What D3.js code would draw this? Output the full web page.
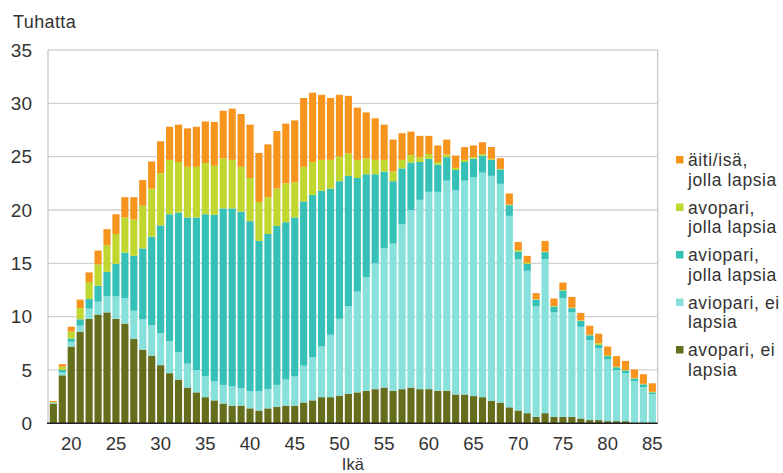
<!DOCTYPE html>
<html><head><meta charset="utf-8">
<script src="https://cdn.jsdelivr.net/npm/d3@7"></script>
<style>body{margin:0;background:#fff}svg{display:block;font-family:"Liberation Sans",Arial,sans-serif}</style>
</head><body><svg id="c" width="783" height="473"></svg>
<script>
const ages = d3.range(18, 86);
const xTickLabels = [20,25,30,35,40,45,50,55,60,65,70,75,80,85];
const yTickLabels = [0,5,10,15,20,25,30,35];
const seriesNames = ["avopari, ei lapsia","aviopari, ei lapsia","aviopari, jolla lapsia","avopari, jolla lapsia","äiti/isä, jolla lapsia"];
const avopariEiLapsia = [1.85,4.5,7.2,8.6,9.8,10.2,10.4,9.8,9.35,7.9,6.9,6.35,5.45,4.7,4.1,3.35,2.9,2.45,2.15,1.85,1.65,1.65,1.4,1.2,1.4,1.55,1.65,1.65,1.95,2.15,2.45,2.45,2.6,2.75,2.9,3.05,3.2,3.35,3.05,3.2,3.35,3.2,3.2,3.05,3.05,2.7,2.7,2.55,2.45,2.1,1.95,1.5,1.2,0.95,0.6,0.95,0.6,0.6,0.6,0.45,0.3,0.3,0.2,0.2,0.2,0.05,0.05,0.05];
const aviopariEiLapsia = [0.05,0.25,0.45,0.55,0.95,1.2,1.5,2.1,2.4,2.65,2.85,2.85,3.0,3.0,2.55,2.25,2.1,1.95,1.8,1.75,1.8,1.65,1.6,1.8,1.8,2.05,2.45,2.75,3.45,4.05,4.75,5.85,7.2,8.25,9.45,10.65,11.8,13.05,13.8,15.45,16.65,17.75,18.5,18.65,19.7,19.15,20.05,20.5,21.05,21.1,20.5,17.95,14.2,13.35,10.4,14.45,9.8,11.15,9.8,8.6,7.5,6.75,5.8,4.8,4.5,3.9,3.35,2.7];
const aviopariJollaLapsia = [0.05,0.25,0.3,0.6,0.9,1.5,2.3,3.05,4.25,5.15,6.65,8.3,10.1,11.9,13.1,13.7,14.3,15.2,15.6,16.55,16.7,16.55,15.95,14.1,14.55,14.9,14.75,14.9,15.4,15.2,14.6,13.7,12.9,12.2,10.65,9.65,8.35,7.2,5.85,5.25,4.45,3.55,3.1,2.55,2.2,1.9,1.75,1.75,1.6,1.5,1.35,1.0,0.7,0.65,0.6,0.65,0.55,0.7,0.4,0.55,0.45,0.3,0.3,0.25,0.25,0.25,0.25,0.15];
const avopariJollaLapsia = [0.05,0.3,0.65,1.05,1.6,2.0,2.5,2.8,3.3,3.4,4.0,4.5,4.9,5.1,4.75,4.75,4.75,4.8,4.6,4.7,4.55,4.2,4.05,3.65,3.45,3.5,3.65,3.3,3.25,3.1,2.9,2.7,2.3,2.1,1.7,1.5,1.35,1.1,0.9,0.8,0.7,0.45,0.45,0.25,0.25,0.2,0.2,0.15,0.15,0.1,0.05,0.05,0.15,0.1,0.05,0.05,0.05,0.05,0.05,0.05,0.05,0.15,0.1,0.05,0.05,0.05,0.05,0.05];
const aitiIsaJollaLapsia = [0.1,0.25,0.45,0.8,0.9,1.3,1.5,1.85,1.9,2.1,2.4,2.55,3.0,3.1,3.5,3.6,3.75,3.9,4.1,4.45,4.8,4.95,5.0,4.6,4.95,5.4,5.6,5.8,6.45,6.5,6.1,5.8,5.8,5.4,4.9,4.3,3.9,3.3,3.0,2.5,2.2,2.0,1.7,1.55,1.4,1.15,1.2,1.1,1.1,1.1,1.0,1.05,0.75,0.65,0.55,1.0,0.7,0.7,1.0,0.7,0.85,0.9,0.8,1.0,0.85,0.8,0.9,0.8];
const colors = ["#656e1b","#87e0da","#35c0b8","#c0d72f","#f7941e"];
const legendLines = [["äiti/isä,","jolla lapsia"],["avopari,","jolla lapsia"],["aviopari,","jolla lapsia"],["aviopari, ei","lapsia"],["avopari, ei","lapsia"]];

const seriesData = [avopariEiLapsia, aviopariEiLapsia, aviopariJollaLapsia, avopariJollaLapsia, aitiIsaJollaLapsia];
const table = ages.map((a,i)=>{const o={age:a}; seriesNames.forEach((n,k)=>o[n]=seriesData[k][i]); return o;});
const stacked = d3.stack().keys(seriesNames)(table);

const svg = d3.select("#c");
const L=48, R=657.7, T=50, B=423.3;
const x = d3.scaleBand().domain(ages).range([L,R]).padding(0.2);
const y = d3.scaleLinear().domain([0,35]).range([B,T]);

// grid
svg.append("g").selectAll("line").data(yTickLabels.filter(d=>d>0)).join("line")
  .attr("x1",L).attr("x2",R).attr("y1",d=>y(d)).attr("y2",d=>y(d))
  .attr("stroke","#d2d2d2").attr("stroke-width",1.3);
svg.append("line").attr("x1",L).attr("x2",L).attr("y1",T).attr("y2",B).attr("stroke","#c8c8c8").attr("stroke-width",1.3);
svg.append("line").attr("x1",R).attr("x2",R).attr("y1",T).attr("y2",B).attr("stroke","#c8c8c8").attr("stroke-width",1.3);

// bars
svg.append("g").selectAll("g").data(stacked).join("g").attr("fill",(d,i)=>colors[i])
  .selectAll("rect").data(d=>d).join("rect")
  .attr("x",d=>x(d.data.age)).attr("width",x.bandwidth())
  .attr("y",d=>y(d[1])).attr("height",d=>Math.max(0,y(d[0])-y(d[1])));

// bottom axis line
svg.append("line").attr("x1",L-1).attr("x2",R).attr("y1",B).attr("y2",B).attr("stroke","#222").attr("stroke-width",1.6);

// axes
const xa = svg.append("g").attr("transform",`translate(0,${B})`)
  .call(d3.axisBottom(x).tickValues(xTickLabels).tickSize(0).tickPadding(14));
xa.select(".domain").remove();
xa.selectAll("text").attr("font-size",18.5).attr("fill","#333").attr("font-family",'"Liberation Sans",Arial,sans-serif');

const ya = svg.append("g").attr("transform",`translate(${L},0)`)
  .call(d3.axisLeft(y).tickValues(yTickLabels).tickSize(0).tickPadding(16));
ya.select(".domain").remove();
ya.selectAll("text").attr("font-size",19).attr("fill","#333").attr("font-family",'"Liberation Sans",Arial,sans-serif');

svg.append("text").attr("x",13).attr("y",28).attr("font-size",18).attr("letter-spacing",0.4).attr("fill","#333").text("Tuhatta");
svg.append("text").attr("x",(L+R)/2).attr("y",469.5).attr("text-anchor","middle").attr("font-size",16.5).attr("fill","#333").text("Ikä");

// legend
const lg = svg.append("g").selectAll("g").data(legendLines).join("g")
  .attr("transform",(d,i)=>`translate(676,${166+47.5*i})`);
lg.append("rect").attr("x",0).attr("y",-10).attr("width",7.5).attr("height",7.5).attr("fill",(d,i)=>colors[4-i]);
lg.each(function(d){
  const g=d3.select(this);
  d.forEach((t,j)=>g.append("text").attr("x",12).attr("y",j*19.5).attr("font-size",17.5).attr("letter-spacing",0.6).attr("fill","#333").text(t));
});
</script></body></html>
